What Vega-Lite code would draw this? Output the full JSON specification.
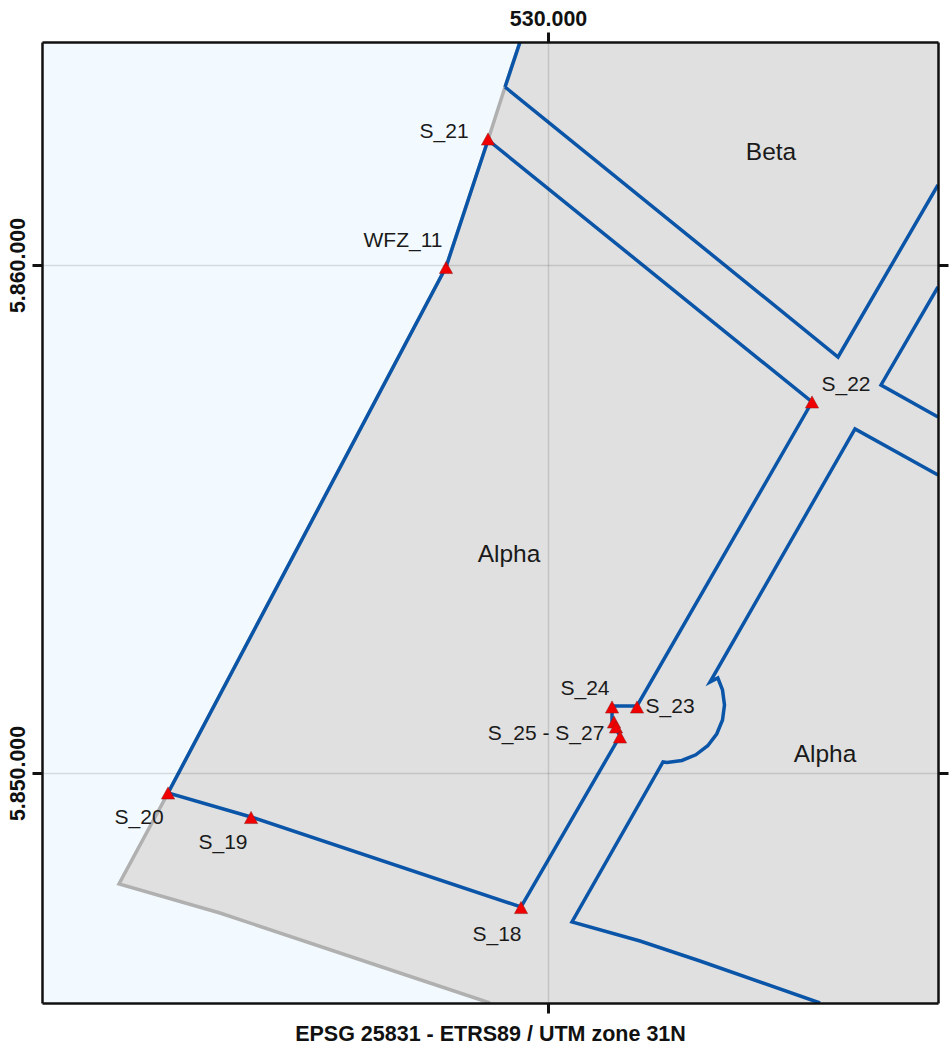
{"$schema":"https://vega.github.io/schema/vega-lite/v6.json","width":896,"height":961,"autosize":"none","padding":{"left":42,"top":42,"right":11,"bottom":43},"background":"#ffffff","view":{"fill":"#f2faff","stroke":null},"config":{"font":"Liberation Sans"},"datasets":{"land":[{"northing":5864390,"easting":529449},{"northing":5863504,"easting":529154},{"northing":5862461,"easting":528819},{"northing":5859961,"easting":527992},{"northing":5849606,"easting":522520},{"northing":5847815,"easting":521555},{"northing":5847244,"easting":523543},{"northing":5845925,"easting":527500},{"northing":5845472,"easting":528858}],"lines":[{"id":"coast","kind":"coast","seq":1,"easting":529449,"northing":5864390},{"id":"coast","kind":"coast","seq":2,"easting":529154,"northing":5863504},{"id":"coast","kind":"coast","seq":3,"easting":528819,"northing":5862461},{"id":"coast","kind":"coast","seq":4,"easting":527992,"northing":5859961},{"id":"coast","kind":"coast","seq":5,"easting":522520,"northing":5849606},{"id":"coast","kind":"coast","seq":6,"easting":521555,"northing":5847815},{"id":"coast","kind":"coast","seq":7,"easting":523543,"northing":5847244},{"id":"coast","kind":"coast","seq":8,"easting":527500,"northing":5845925},{"id":"coast","kind":"coast","seq":9,"easting":528858,"northing":5845472},{"id":"a","kind":"boundary","seq":1,"easting":529449,"northing":5864390},{"id":"a","kind":"boundary","seq":2,"easting":529154,"northing":5863504},{"id":"b","kind":"boundary","seq":1,"easting":529154,"northing":5863504},{"id":"b","kind":"boundary","seq":2,"easting":535709,"northing":5858189},{"id":"b","kind":"boundary","seq":3,"easting":537677,"northing":5861575},{"id":"c","kind":"boundary","seq":1,"easting":528819,"northing":5862461},{"id":"c","kind":"boundary","seq":2,"easting":527992,"northing":5859961},{"id":"c","kind":"boundary","seq":3,"easting":522520,"northing":5849606},{"id":"c","kind":"boundary","seq":4,"easting":524154,"northing":5849134},{"id":"c","kind":"boundary","seq":5,"easting":529469,"northing":5847362},{"id":"c","kind":"boundary","seq":6,"easting":531417,"northing":5850728},{"id":"c","kind":"boundary","seq":7,"easting":531260,"northing":5851004},{"id":"c","kind":"boundary","seq":8,"easting":531260,"northing":5851319},{"id":"c","kind":"boundary","seq":9,"easting":531752,"northing":5851319},{"id":"c","kind":"boundary","seq":10,"easting":535197,"northing":5857303},{"id":"c","kind":"boundary","seq":11,"easting":528819,"northing":5862461},{"id":"d","kind":"boundary","seq":1,"easting":537677,"northing":5859567},{"id":"d","kind":"boundary","seq":2,"easting":536555,"northing":5857638},{"id":"d","kind":"boundary","seq":3,"easting":537677,"northing":5857008},{"id":"e","kind":"boundary","seq":1,"easting":537677,"northing":5855866},{"id":"e","kind":"boundary","seq":2,"easting":536043,"northing":5856772},{"id":"e","kind":"boundary","seq":3,"easting":533189,"northing":5851791},{"id":"e","kind":"boundary","seq":4,"easting":533343,"northing":5851870},{"id":"e","kind":"boundary","seq":5,"easting":533435,"northing":5851634},{"id":"e","kind":"boundary","seq":6,"easting":533474,"northing":5851339},{"id":"e","kind":"boundary","seq":7,"easting":533435,"northing":5851043},{"id":"e","kind":"boundary","seq":8,"easting":533323,"northing":5850772},{"id":"e","kind":"boundary","seq":9,"easting":533144,"northing":5850537},{"id":"e","kind":"boundary","seq":10,"easting":532909,"northing":5850358},{"id":"e","kind":"boundary","seq":11,"easting":532636,"northing":5850246},{"id":"e","kind":"boundary","seq":12,"easting":532343,"northing":5850207},{"id":"e","kind":"boundary","seq":13,"easting":532264,"northing":5850217},{"id":"e","kind":"boundary","seq":14,"easting":530472,"northing":5847067},{"id":"e","kind":"boundary","seq":15,"easting":531811,"northing":5846693},{"id":"e","kind":"boundary","seq":16,"easting":532992,"northing":5846299},{"id":"e","kind":"boundary","seq":17,"easting":535354,"northing":5845472}],"sites":[{"site":"S_18","easting":529469,"northing":5847352},{"site":"S_19","easting":524154,"northing":5849124},{"site":"S_20","easting":522520,"northing":5849606},{"site":"S_21","easting":528819,"northing":5862480},{"site":"WFZ_11","easting":527992,"northing":5859951},{"site":"S_22","easting":535197,"northing":5857303},{"site":"S_23","easting":531752,"northing":5851299},{"site":"S_24","easting":531260,"northing":5851299},{"site":"S_25","easting":531299,"northing":5851004},{"site":"S_26","easting":531339,"northing":5850906},{"site":"S_27","easting":531417,"northing":5850709}],"siteLabels":[{"label":"S_21","easting":527953,"northing":5862638},{"label":"WFZ_11","easting":527146,"northing":5860492},{"label":"S_22","easting":535866,"northing":5857657},{"label":"S_24","easting":530728,"northing":5851673},{"label":"S_23","easting":532402,"northing":5851319},{"label":"S_25 - S_27","easting":529961,"northing":5850787},{"label":"S_20","easting":521949,"northing":5849134},{"label":"S_19","easting":523602,"northing":5848642},{"label":"S_18","easting":528996,"northing":5846831}],"areaLabels":[{"label":"Beta","easting":534390,"northing":5862224},{"label":"Alpha","easting":529232,"northing":5854311},{"label":"Alpha","easting":535453,"northing":5850374}]},"layer":[{"data":{"name":"land"},"mark":{"type":"area","orient":"horizontal","color":"#e0e0e0","clip":true},"encoding":{"x":{"field":"easting","type":"quantitative","scale":{"domain":[520039,537677],"nice":false,"zero":false},"axis":{"orient":"bottom","values":[530000],"labels":false,"grid":true,"gridColor":"#000000","gridOpacity":0.12,"gridWidth":1.5,"ticks":true,"tickSize":10,"tickWidth":3,"tickColor":"#111111","domain":true,"domainColor":"#111111","domainWidth":2.5,"title":"EPSG 25831 - ETRS89 / UTM zone 31N","titleFont":"Liberation Sans","titleFontSize":21.5,"titleFontWeight":"bold","titleColor":"#111111","titlePadding":9,"zindex":1}},"x2":{"datum":537677},"y":{"field":"northing","type":"quantitative","scale":{"domain":[5845472,5864390],"nice":false,"zero":false},"axis":{"orient":"left","values":[5850000,5860000],"grid":true,"gridColor":"#000000","gridOpacity":0.12,"gridWidth":1.5,"ticks":true,"tickSize":10,"tickWidth":3,"tickColor":"#111111","domain":true,"domainColor":"#111111","domainWidth":2.5,"labelExpr":"replace(replace(format(datum.value, ','), ',', '.'), ',', '.')","labelFont":"Liberation Sans","labelFontSize":21.4,"labelFontWeight":"bold","labelColor":"#111111","labelAngle":-90,"labelAlign":"center","labelBaseline":"bottom","labelPadding":4,"title":null,"zindex":1}}}},{"data":{"name":"lines"},"mark":{"type":"line","strokeWidth":3.5,"clip":true,"strokeJoin":"miter"},"encoding":{"x":{"field":"easting","type":"quantitative","scale":{"domain":[520039,537677],"nice":false,"zero":false},"axis":{"orient":"top","values":[530000],"grid":false,"ticks":true,"tickSize":10,"tickWidth":3,"tickColor":"#111111","domain":true,"domainColor":"#111111","domainWidth":2.5,"labelExpr":"replace(format(datum.value, ','), ',', '.')","labelFont":"Liberation Sans","labelFontSize":21.4,"labelFontWeight":"bold","labelColor":"#111111","labelPadding":3,"title":null,"zindex":1}},"y":{"field":"northing","type":"quantitative","scale":{"domain":[5845472,5864390],"nice":false,"zero":false},"axis":{"orient":"right","values":[5850000,5860000],"labels":false,"grid":false,"ticks":true,"tickSize":10,"tickWidth":3,"tickColor":"#111111","domain":true,"domainColor":"#111111","domainWidth":2.5,"title":null,"zindex":1}},"detail":{"field":"id"},"order":{"field":"seq"},"color":{"field":"kind","type":"nominal","scale":{"domain":["coast","boundary"],"range":["#b0b0b0","#0b55a8"]},"legend":null}}},{"data":{"name":"sites"},"mark":{"type":"point","shape":"M0,-0.92L1,0.92L-1,0.92Z","filled":true,"size":175,"fill":"#f00000","stroke":"#8a2020","strokeWidth":0.5,"opacity":1},"encoding":{"x":{"field":"easting","type":"quantitative","axis":null},"y":{"field":"northing","type":"quantitative","axis":null}}},{"data":{"name":"siteLabels"},"mark":{"type":"text","font":"Liberation Sans","fontSize":21,"color":"#1a1a1a","align":"center","baseline":"middle","dy":1},"encoding":{"x":{"field":"easting","type":"quantitative","axis":null},"y":{"field":"northing","type":"quantitative","axis":null},"text":{"field":"label"}}},{"data":{"name":"areaLabels"},"mark":{"type":"text","font":"Liberation Sans","fontSize":24.5,"color":"#1a1a1a","align":"center","baseline":"middle","dy":1},"encoding":{"x":{"field":"easting","type":"quantitative","axis":null},"y":{"field":"northing","type":"quantitative","axis":null},"text":{"field":"label"}}}],"resolve":{"axis":{"x":"independent","y":"independent"}}}
